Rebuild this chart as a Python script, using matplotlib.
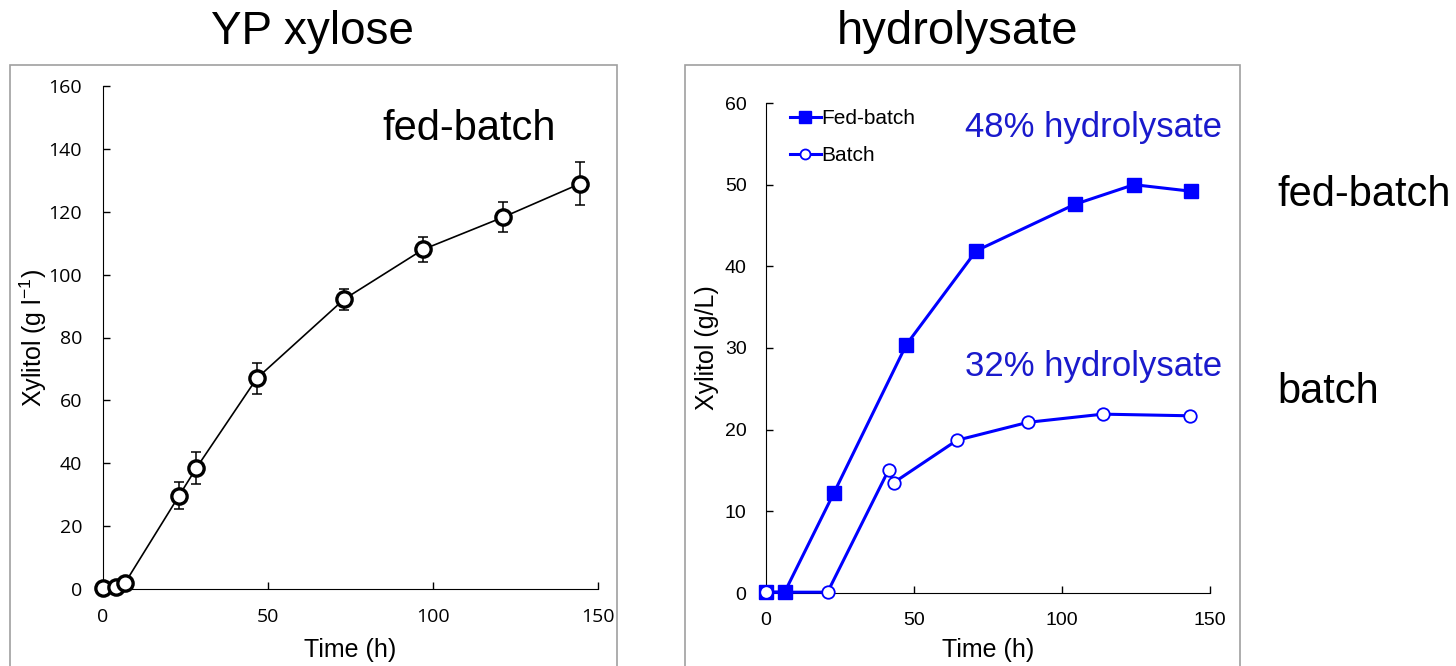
import numpy as np
import matplotlib
matplotlib.use('Agg')
import matplotlib.pyplot as plt
from matplotlib.patches import Rectangle

# YP xylose fed-batch
yp_time = [0, 3.8, 6.6, 23, 28.3, 46.6, 73.1, 97, 121.1, 144.5]
yp_xyl = [0.3, 0.6, 1.8, 29.6, 38.5, 67, 92.2, 108, 118.2, 128.9]
yp_err = [0, 0, 0, 4.3, 5.0, 4.9, 3.3, 4.0, 4.8, 6.8]

# hydrolysate
fb_time = [0, 6.3, 23, 47.4, 71, 104.4, 124.3, 143.5]
fb_xyl = [0.1, 0.1, 12.3, 30.4, 41.9, 47.6, 50.0, 49.2]
b_time = [0, 20.8, 41.4, 43.1, 64.5, 88.5, 113.8, 143.1]
b_xyl = [0.1, 0.1, 15.05, 13.5, 18.7, 20.9, 21.9, 21.7]

blue = '#0000FF'
text_blue = '#1a1acc'

fig = plt.figure(figsize=(14.56, 6.66), dpi=100)
W, H = 1456, 666

def px(x0, y0, x1, y1):
    # pixel box -> figure fraction [left, bottom, width, height]
    return [x0 / W, 1 - y1 / H, (x1 - x0) / W, (y1 - y0) / H]

# panel frames
for x0, x1 in [(10, 617), (685, 1240)]:
    fig.patches.append(Rectangle((x0 / W, -0.05), (x1 - x0) / W, 1 - 65 / H + 0.05,
                                 transform=fig.transFigure, fill=False,
                                 edgecolor='#a0a0a0', linewidth=1.2))

fig.text(312 / W, 1 - 32 / H, 'YP xylose', ha='center', va='center',
         fontsize=33, family='Liberation Sans')
fig.text(957 / W, 1 - 32 / H, 'hydrolysate', ha='center', va='center',
         fontsize=34, family='Liberation Sans')

# ---- left panel ----
ax1 = fig.add_axes(px(103, 86, 598, 589))
ax1.plot(yp_time, yp_xyl, color='black', lw=1.2, zorder=2)
ax1.errorbar(yp_time, yp_xyl, yerr=yp_err, fmt='none', ecolor='black',
             elinewidth=1.1, capsize=3.5, capthick=1.1, zorder=2)
ax1.plot(yp_time, yp_xyl, 'o', ms=11, mfc='white', mec='black', mew=2.4,
         zorder=3, clip_on=False)
ax1.set_xlim(0, 150)
ax1.set_ylim(0, 160)
ax1.set_xticks([0, 50, 100, 150])
ax1.set_yticks(range(0, 161, 20))
for s in ['top', 'right']:
    ax1.spines[s].set_visible(False)
ax1.tick_params(direction='in', length=5, width=1, labelsize=14)
ax1.tick_params(axis='x', pad=14)
ax1.tick_params(axis='y', pad=15)
for lab in ax1.get_xticklabels() + ax1.get_yticklabels():
    lab.set_family('Open Sans')
ax1.set_xlabel('Time (h)', fontsize=18, family='Liberation Sans', labelpad=8)
ax1.set_ylabel('Xylitol (g l$^{\\mathregular{-1}}$)', fontsize=18,
               family='Liberation Sans', labelpad=0)
ax1.text(0.915, 0.915, 'fed-batch', transform=ax1.transAxes, ha='right',
         va='center', fontsize=30, family='Liberation Sans')

# ---- right panel ----
ax2 = fig.add_axes(px(766, 103, 1210, 593))
ax2.plot(fb_time, fb_xyl, '-s', color=blue, lw=2.2, ms=10, mfc=blue, mec=blue,
         label='Fed-batch', clip_on=False, zorder=3)
ax2.plot(b_time, b_xyl, '-o', color=blue, lw=2.2, ms=9, mfc='white', mec=blue,
         mew=1.3, label='Batch', clip_on=False, zorder=4)
ax2.set_xlim(0, 150)
ax2.set_ylim(0, 60)
ax2.set_xticks([0, 50, 100, 150])
ax2.set_yticks(range(0, 61, 10))
for s in ['top', 'right']:
    ax2.spines[s].set_visible(False)
ax2.tick_params(direction='in', length=5, width=1, labelsize=14)
ax2.tick_params(axis='x', pad=14)
ax2.tick_params(axis='y', pad=14)
for lab in ax2.get_xticklabels() + ax2.get_yticklabels():
    lab.set_family('Liberation Sans')
ax2.set_xlabel('Time (h)', fontsize=18, family='Liberation Sans', labelpad=6)
ax2.set_ylabel('Xylitol (g/L)', fontsize=18, family='Liberation Sans',
               labelpad=4)
leg = ax2.legend(loc='upper left', bbox_to_anchor=(0.025, 1.013), frameon=False,
                 prop={'family': 'Liberation Sans', 'size': 15},
                 handlelength=1.5, handletextpad=0.0, borderaxespad=0.2,
                 labelspacing=0.85, markerscale=0.8)
ax2.text(1.027, 0.951, '48% hydrolysate', transform=ax2.transAxes, ha='right',
         va='center', fontsize=25, color=text_blue, family='Liberation Sans')
ax2.text(1.027, 0.463, '32% hydrolysate', transform=ax2.transAxes, ha='right',
         va='center', fontsize=25, color=text_blue, family='Liberation Sans')

fig.text(1277 / W, 1 - 195 / H, 'fed-batch', ha='left', va='center',
         fontsize=30, family='Liberation Sans')
fig.text(1277 / W, 1 - 392 / H, 'batch', ha='left', va='center',
         fontsize=30, family='Liberation Sans')

fig.savefig('out.png', dpi=100)
